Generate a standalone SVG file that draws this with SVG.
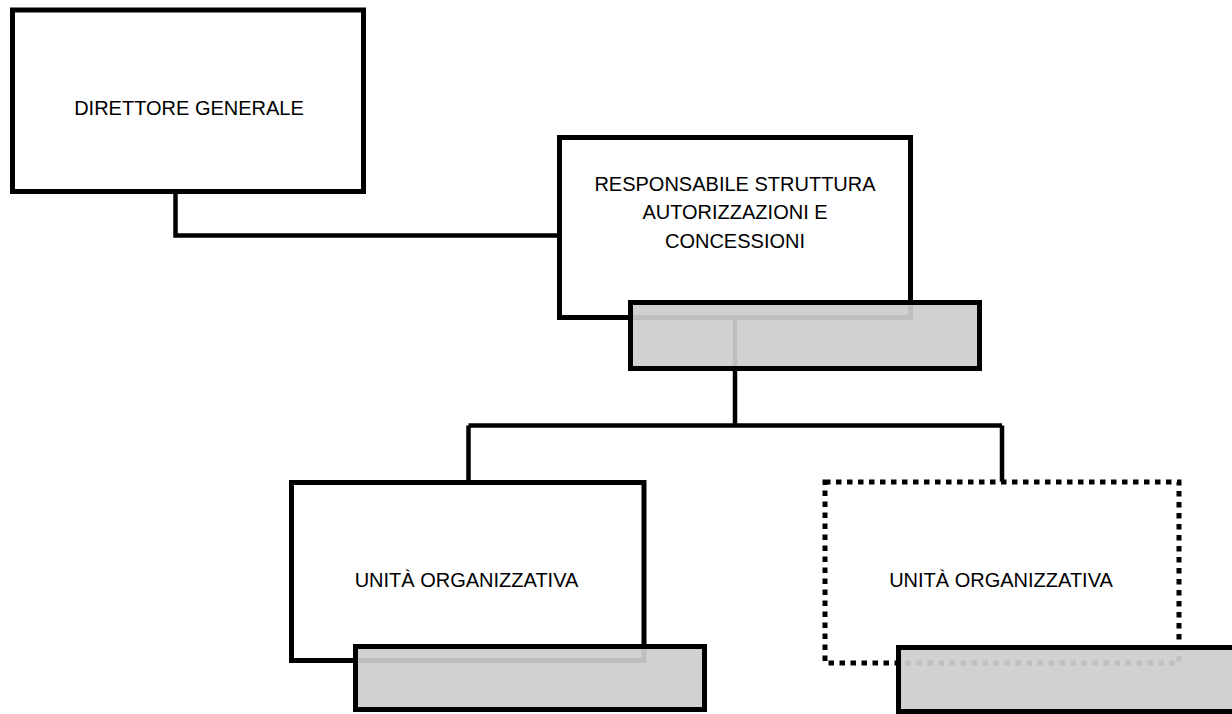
<svg xmlns="http://www.w3.org/2000/svg" width="1232" height="714" viewBox="0 0 1232 714">
<style>
.box{fill:#fff;stroke:#000;stroke-width:5}
.dot{fill:#fff;stroke:#000;stroke-width:5;stroke-dasharray:5.5 5.5}
.tab{fill:#cdcdcd;fill-opacity:0.93;stroke:#000;stroke-width:5}
.con{fill:none;stroke:#000;stroke-width:4.5}
.lbl{font-family:"Liberation Sans",Arial,sans-serif;font-size:20px;fill:#000;text-anchor:middle}
</style>
<rect width="1232" height="714" fill="#fff"/>
<g id="direttore-generale">
<rect class="box" x="12.5" y="10" width="351" height="181.5"/>
<text class="lbl" x="189" y="115">DIRETTORE GENERALE</text>
</g>
<g id="responsabile-struttura">
<rect class="box" x="559.5" y="137.5" width="351" height="180"/>
<text class="lbl" x="735" y="191">RESPONSABILE STRUTTURA</text>
<text class="lbl" x="735" y="219">AUTORIZZAZIONI E</text>
<text class="lbl" x="735" y="248">CONCESSIONI</text>
</g>
<g id="unita-organizzativa-1">
<rect class="box" x="291.5" y="482.5" width="352.5" height="178"/>
<text class="lbl" x="466.5" y="587">UNITÀ ORGANIZZATIVA</text>
</g>
<g id="unita-organizzativa-2">
<rect class="dot" x="825" y="482" width="354" height="181"/>
<text class="lbl" x="1001" y="587">UNITÀ ORGANIZZATIVA</text>
</g>
<g id="connectors">
<path class="con" d="M175.5 191.5 V235.5 H559.5"/>
<path class="con" d="M735 317.5 V425.5"/>
<path class="con" d="M468.5 425.5 H1002"/>
<path class="con" d="M468.5 425.5 V482.5"/>
<path class="con" d="M1002 425.5 V481.5"/>
</g>
<g id="tab-responsabile">
<rect class="tab" x="630.5" y="302.5" width="349" height="66"/>
</g>
<g id="tab-unita-1">
<rect class="tab" x="355.5" y="646.5" width="349" height="63"/>
</g>
<g id="tab-unita-2">
<rect class="tab" x="898.5" y="647.5" width="400" height="64"/>
</g>
</svg>
